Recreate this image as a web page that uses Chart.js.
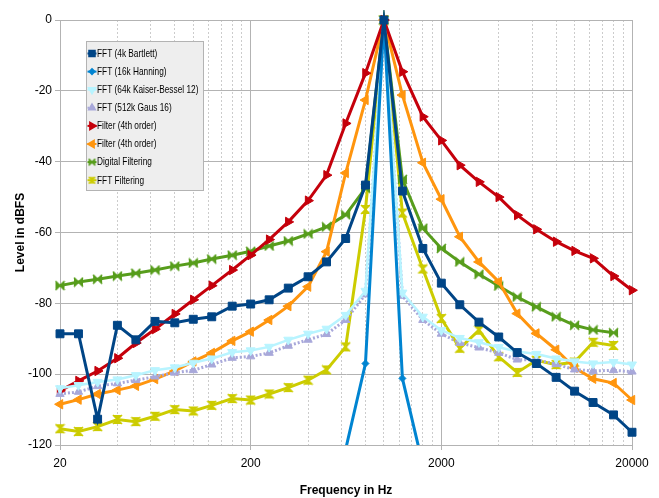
<!DOCTYPE html>
<html><head><meta charset="utf-8">
<script src="https://cdn.jsdelivr.net/npm/chart.js@4/dist/chart.umd.min.js"></script>
<style>html,body{margin:0;padding:0;background:#fff;} #wrap{width:659px;height:498px;position:relative;}</style>
</head><body><div id="wrap"><canvas id="c" width="659" height="498"></canvas></div>
<script>
// ---------- data ----------
const freqs = [20,25,31.5,40,50,63,80,100,125,160,200,250,315,400,500,630,800,1000,1250,1600,2000,2500,3150,4000,5000,6300,8000,10000,12500,16000,20000];
const seriesNames = ['FFT (4k Bartlett)','FFT (16k Hanning)','FFT (64k Kaiser-Bessel 12)','FFT (512k Gaus 16)','Filter (4th order)','Filter (4th order)','Digital Filtering','FFT Filtering'];
const bartlett = [-88.6,-88.6,-112.7,-86.2,-90.3,-85.1,-85.5,-84.5,-83.8,-80.8,-80.2,-79,-75.7,-72.5,-68.3,-61.7,-46.6,0,-48.3,-64.5,-74.3,-80.4,-85.3,-89.5,-93.9,-97,-100.9,-104.8,-108,-111.5,-116.4];
const hanning = [null,null,null,null,null,null,null,null,null,null,null,null,null,null,null,-121.2,-97,0,-101.2,-125.7,null,null,null,null,null,null,null,null,null,null,null];
const kaiser = [-104,-103.1,-102.2,-101.5,-100.3,-98.9,-98.1,-96.8,-95.6,-93.8,-93.3,-92.3,-90.3,-88.6,-87.2,-83.3,-76.5,0,-77,-83.8,-87.6,-89.8,-91,-92.4,-93.6,-94.3,-95.6,-96.4,-97,-96.6,-97.3];
const gauss = [-105.6,-105,-103.4,-102.6,-101.7,-100.7,-99.6,-98.9,-97.3,-95.4,-95,-94,-92,-90.3,-88.7,-84.7,-77.5,0,-77.9,-84.7,-88.6,-91.2,-92.5,-94,-95.9,-95.9,-97.2,-98.7,-99.1,-98.9,-99.3];
const filterA = [-104.7,-101.9,-99.1,-95.5,-91.2,-87.3,-83,-79,-75,-70.6,-66.4,-62,-57,-51,-43.8,-29.2,-15,0,-14.6,-27.3,-34,-41,-45.7,-50,-55.1,-59.1,-62.6,-65.2,-67.3,-72.3,-76.3];
const filterB = [-108.5,-107.2,-105.6,-104.5,-103.3,-101.4,-99.1,-96.4,-94,-90.6,-88,-84.7,-80.8,-75.3,-65.4,-43.2,-22.6,0,-21.2,-40.3,-50.6,-61.2,-68.3,-73.9,-82.9,-88.5,-93.1,-98.2,-101.3,-102.5,-107.3];
const digital = [-75,-74,-73.2,-72.3,-71.5,-70.6,-69.5,-68.6,-67.5,-66.4,-65.3,-63.8,-62.4,-60.4,-58.4,-55,-47.5,0,-45,-58.8,-64.5,-68.3,-71.8,-75.1,-78.2,-81,-83.8,-86.2,-87.5,-88.3,null];
const fftFilt = [-115.4,-116.2,-114.8,-112.8,-113.4,-111.9,-110,-110.4,-108.8,-106.9,-107.3,-105.6,-103.8,-101.7,-98.8,-92.3,-53.5,0,-54.5,-70.3,-84.3,-92.7,-87.6,-95.1,-99.5,-96.1,-97.3,-96.6,-91,-91.9,null];
const xTickLabels = [20,200,2000,20000];
const xMinorMultipliers = [2,3,4,5,6,7,8,9];
const yTicks = [0,-20,-40,-60,-80,-100,-120];

// ---------- styles ----------
const FONT = "'Liberation Sans Narrow','Liberation Sans',Arial,sans-serif";
function shapeCanvas(kind, color, r){
  const s = Math.ceil(2*r+2), c = document.createElement('canvas');
  c.width = s; c.height = s;
  const g = c.getContext('2d'), m = s/2;
  g.fillStyle = color;
  g.beginPath();
  if (kind === 'bowtie'){
    g.moveTo(m-r,m-r); g.lineTo(m,m); g.lineTo(m-r,m+r); g.closePath();
    g.moveTo(m+r,m-r); g.lineTo(m,m); g.lineTo(m+r,m+r); g.closePath();
  } else {
    g.moveTo(m-r,m-r); g.lineTo(m+r,m-r); g.lineTo(m,m); g.closePath();
    g.moveTo(m-r,m+r); g.lineTo(m+r,m+r); g.lineTo(m,m); g.closePath();
  }
  g.fill();
  g.lineWidth = 1.6; g.strokeStyle = color;
  g.beginPath();
  g.moveTo(m-r,m-r); g.lineTo(m+r,m+r); g.moveTo(m+r,m-r); g.lineTo(m-r,m+r);
  g.stroke();
  return c;
}
const styles = [
  {color:'#004586', ps:'rect', r:5.6, rot:0, w:3},
  {color:'#0084d1', ps:'rectRot', r:3.5, rot:0, w:3},
  {color:'#b8f4ff', ps:'triangle', r:5.2, rot:180, w:2.5},
  {color:'#a8a8da', ps:'triangle', r:4.8, rot:0, w:3, dash:[2,2]},
  {color:'#c5000b', ps:'triangle', r:5.4, rot:90, w:3},
  {color:'#ff950e', ps:'triangle', r:5.4, rot:-90, w:3},
  {color:'#579d1c', ps:shapeCanvas('bowtie','#579d1c',4.5), lps:shapeCanvas('bowtie','#579d1c',3.2), r:5, rot:0, w:3},
  {color:'#cccc00', ps:shapeCanvas('hourglass','#cccc00',4.5), lps:shapeCanvas('hourglass','#cccc00',3.2), r:5, rot:0, w:3},
];
const seriesValues = [bartlett, hanning, kaiser, gauss, filterA, filterB, digital, fftFilt];

const datasets = seriesValues.map((vals, i) => {
  const st = styles[i];
  return {
    label: seriesNames[i],
    data: freqs.map((f, j) => ({x: f, y: vals[j]})),
    borderColor: st.color, backgroundColor: st.color,
    borderWidth: st.w, borderDash: st.dash || [],
    pointStyle: st.ps, pointRadius: st.r, pointRotation: st.rot,
    pointBackgroundColor: st.color, pointBorderColor: st.color, pointBorderWidth: 1,
    tension: 0, spanGaps: false,
    clip: {left: 10, top: 10, right: 10, bottom: 0}
  };
});

const xTickValues = [];
xTickLabels.forEach((v, k) => {
  xTickValues.push(v);
  if (k < xTickLabels.length - 1) xMinorMultipliers.forEach(m => xTickValues.push(v * m));
});
const isMajorX = v => xTickLabels.some(t => Math.abs(t - v) < 1e-6);

const legendPlugin = {
  id: 'boxLegend',
  afterDraw(chart) {
    const ctx = chart.ctx, a = chart.chartArea;
    const x0 = a.left + 26, y0 = a.top + 21, w = 118, h = 150, step = 18.1;
    ctx.save();
    ctx.fillStyle = '#eeeeee'; ctx.fillRect(x0, y0, w, h);
    ctx.strokeStyle = '#b3b3b3'; ctx.lineWidth = 1; ctx.strokeRect(x0 + 0.5, y0 + 0.5, w - 1, h - 1);
    chart.data.datasets.forEach((ds, i) => {
      const st = styles[i];
      const cy = y0 + 12.5 + i * step, cx = x0 + 6;
      ctx.strokeStyle = st.color; ctx.lineWidth = 2; ctx.setLineDash(st.dash ? [1.5,1.5] : []);
      ctx.beginPath(); ctx.moveTo(x0 + 1.5, cy); ctx.lineTo(x0 + 10.5, cy); ctx.stroke();
      ctx.setLineDash([]);
      ctx.fillStyle = st.color; ctx.strokeStyle = st.color;
      Chart.helpers.drawPoint(ctx, {pointStyle: st.lps || st.ps, radius: st.r * 0.7, rotation: st.rot, borderWidth: 1}, cx, cy);
      if (!st.lps) ctx.fill();
      ctx.save();
      ctx.fillStyle = '#000';
      ctx.font = "10.5px " + FONT;
      ctx.textBaseline = 'middle'; ctx.textAlign = 'left';
      ctx.translate(x0 + 11, cy + 0.5);
      ctx.scale(0.79, 1);
      ctx.fillText(ds.label, 0, 0);
      ctx.restore();
    });
    ctx.restore();
  }
};

new Chart(document.getElementById('c'), {
  type: 'line',
  data: { datasets },
  options: {
    responsive: false, animation: false, events: [],
    layout: { padding: { top: 20, right: 27, left: 0, bottom: 0 } },
    plugins: { legend: { display: false }, tooltip: { enabled: false } },
    scales: {
      x: {
        type: 'logarithmic', min: 20, max: 20000,
        afterBuildTicks: s => { s.ticks = xTickValues.map(v => ({value: v, major: false})); },
        afterFit: s => { s.height = 53; },
        ticks: { autoSkip: false, maxRotation: 0, padding: 6, color: '#000',
                 font: { family: FONT, size: 12 },
                 callback: v => isMajorX(v) ? String(v) : '' },
        grid: { color: c => (c.tick && !isMajorX(c.tick.value)) ? '#cccccc' : '#b3b3b3',
                lineWidth: 1, tickLength: 5,
                tickColor: c => (c.tick && !isMajorX(c.tick.value)) ? 'rgba(0,0,0,0)' : '#b3b3b3' },
        border: { color: '#b3b3b3', dash: c => (c.tick && !isMajorX(c.tick.value)) ? [2,2] : [] },
        title: { display: true, text: 'Frequency in Hz', color: '#000',
                 font: { family: FONT, size: 12, weight: 'bold' }, padding: { top: 0, bottom: 0 } }
      },
      y: {
        min: -120, max: 0,
        afterBuildTicks: s => { s.ticks = yTicks.map(v => ({value: v})); },
        afterFit: s => { s.width = 60; },
        ticks: { padding: 3, color: '#000', font: { family: FONT, size: 12 } },
        grid: { color: '#b3b3b3', lineWidth: 1, tickLength: 5, tickColor: '#b3b3b3' },
        border: { color: '#b3b3b3' },
        title: { display: true, text: 'Level in dBFS', color: '#000',
                 font: { family: FONT, size: 12, weight: 'bold' }, padding: { top: 13, bottom: 0 } }
      }
    }
  },
  plugins: [legendPlugin]
});
</script>
</body></html>
